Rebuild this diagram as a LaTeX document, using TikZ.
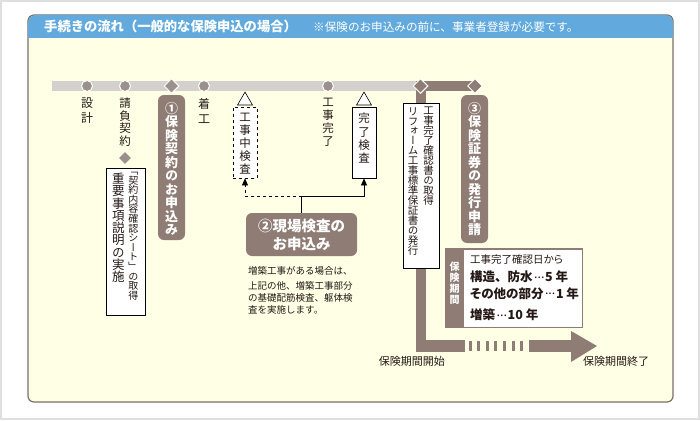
\documentclass[tikz,border=0pt]{standalone}
\usepackage{fontspec}
\setmainfont{Noto Sans CJK JP}
\newfontfamily\jpv[RawFeature=+vert]{Noto Sans CJK JP}
\newfontfamily\jpp[RawFeature=+palt]{Noto Sans CJK JP}
\usetikzlibrary{shapes.geometric,arrows.meta}
\definecolor{hdrblue}{RGB}{98,170,221}
\definecolor{panelyel}{RGB}{255,255,230}
\definecolor{panelline}{RGB}{125,110,104}
\definecolor{brwn}{RGB}{143,124,116}
\definecolor{barg}{RGB}{212,208,205}
\definecolor{dotg}{RGB}{155,145,140}
\definecolor{ink}{RGB}{35,24,21}
\newcommand\fs[1]{\fontsize{#1}{#1}\selectfont}
\newcommand\tdot{\raisebox{0.3em}{\mdseries .}}
\newcommand\tdots{\makebox[1em][s]{\hspace{0.12em}\tdot\hfil\tdot\hfil\tdot\hspace{0.12em}}}
\ExplSyntaxOn
\NewDocumentCommand\tate{O{1.1}m}{
  \vbox:n{
    \skip_set:Nn\baselineskip{#1em}
    \dim_set:Nn\lineskiplimit{-\maxdimen}
    \tl_map_inline:nn{#2}{\hbox_to_wd:nn{1em}{\hss##1\hss}}
  }
}
\ExplSyntaxOff

\begin{document}
\begin{tikzpicture}[x=1pt,y=-1pt,
  dot/.style={circle,fill=dotg,draw=white,line width=1,minimum size=11,inner sep=0},
  dia/.style={diamond,fill=dotg,draw=white,line width=1,minimum size=15,inner sep=0},
  tri/.style={regular polygon,regular polygon sides=3,draw,fill=white,line width=0.6,minimum size=17.3,inner sep=0},
  tbox/.style={draw,fill=white,line width=0.8,inner sep=0},
  pill/.style={fill=brwn,rounded corners=6,inner sep=0,text=white,font=\bfseries},
  vt/.style={inner sep=0,anchor=north,text=ink},
  conn/.style={line width=0.8,-{Triangle[length=7pt,width=6pt]}}]
\useasboundingbox (0,0) rectangle (700,420);
\fill[white] (0,0) rectangle (700,420);
\draw[gray!25,line width=2] (1,1) rectangle (699,419);

\draw[panelline,line width=1.2,fill=panelyel,rounded corners=6] (28,15) rectangle (673,402);
\fill[hdrblue,rounded corners=8] (28,15) rectangle (673,38);
\fill[hdrblue] (28,30) rectangle (673,38);
\node[anchor=west,text=white,inner sep=0,font=\bfseries\fs{13.3}] (title) at (44,26.5) {手続きの流れ（一般的な保険申込の場合）};
\node[anchor=west,text=white,inner sep=0,font=\fs{11.6}] (note) at (313,27) {※保険のお申込みの前に、事業者登録が必要です。};

\fill[barg] (52,81) rectangle (416,91);
\fill[brwn] (416,81) rectangle (476,91);
\fill[brwn] (416,86) rectangle (426,352);
\fill[brwn] (416,340) rectangle (465,352);
\foreach \x in {470,478.6,...,523} \fill[brwn] (\x-1.5,341) rectangle (\x+1.5,351);
\fill[brwn] (529,340) rectangle (572,352);
\fill[brwn] (571,331) -- (597,346) -- (571,362) -- cycle;

\node[dot] (sekkei) at (87,86) {};
\node[dot] (ukeoi) at (125,86) {};
\node[dia] (keiyakud) at (171.5,86) {};
\node[dot] (chakko) at (204,86) {};
\node[dot] (kansei) at (328,86) {};
\node[dia,fill=brwn] (kaishid) at (420.5,86) {};
\node[dia,fill=brwn] (shokend) at (475,86) {};

\node[vt] (sekkeit) at (87,98) {\jpv\fs{12}\tate[1.25]{設計}};
\node[vt] (ukeoit) at (125,98) {\jpv\fs{11.5}\tate[1.09]{請負契約}};
\node[vt] (chakkot) at (204,98) {\jpv\fs{12}\tate[1.25]{着工}};
\node[vt] (kanseit) at (328,98) {\jpv\fs{11.5}\tate[1.13]{工事完了}};
\node[dia,minimum size=12,draw=none] (ukeoid) at (125,158) {};

\node[tbox,minimum width=39,minimum height=147] (keiyaku) at (125.4,241.5) {};
\node[vt] (keiyakut1) at (133.3,172) {\jpv\fs{10}\tate[0.96]{「契約内容確認シート」の取得}};
\node[vt] (keiyakut2) at (118.3,173) {\jpv\fs{12.5}\tate[0.98]{重要事項説明の実施}};

\node[pill,minimum width=27,minimum height=145] (moushikomi) at (171.5,167.5) {};
\node[vt,text=white] (moushikomit) at (171.5,102) {\jpv\bfseries\fs{13}\tate[1.04]{①保険契約のお申込み}};

\node[tri] (tri1) at (245,100.7) {};
\node[tri] (tri2) at (364,100.7) {};
\node[tbox,dashed,minimum width=24,minimum height=71] (chukan) at (245,142.5) {};
\node[vt] (chukant) at (245,113) {\jpv\fs{11.5}\tate[1.13]{工事中検査}};
\node[tbox,minimum width=24,minimum height=71] (kanryo) at (364,142.5) {};
\node[vt] (kanryot) at (364,113) {\jpv\fs{11.5}\tate[1.15]{完了検査}};

\node[pill,minimum width=111,minimum height=43,align=center,font=\bfseries\fontsize{14.5}{18}\selectfont] (genba) at (301.5,234.5) {②現場検査の\\お申込み};
\coordinate (fork) at (301.5,196);
\draw[conn] (genba.north) -- (fork) -| (kanryo.south);
\draw[conn,dashed] (fork) -| (chukan.south);
\node[anchor=north west,inner sep=0,align=left,text=ink,font=\fontsize{9.5}{12}\selectfont] (zochiku) at (248,266) {増築工事がある場合は、\\[3pt]上記の他、増築工事部分\\の基礎配筋検査、躯体検\\査を実施します。};

\node[tbox,minimum width=36,minimum height=165] (kakunin) at (421,185.5) {};
\node[vt] (kakunint1) at (428.5,107) {\jpv\fs{10.5}\tate[0.95]{工事完了確認書の取得}};
\node[vt] (kakunint2) at (413,107) {\jpv\fs{10.5}\tate[0.95]{リフォーム工事標準保証書の発行}};

\node[pill,minimum width=27,minimum height=148] (shoken) at (474.5,169) {};
\node[vt,text=white] (shokent) at (474.5,102) {\jpv\bfseries\fs{13}\tate[1.04]{③保険証券の発行申請}};

\node[fill=brwn,minimum width=138,minimum height=80,inner sep=0] (kikan) at (514,288) {};
\node[fill=white,minimum width=118,minimum height=77,inner sep=0] (kikanin) at (523,288.5) {};
\node[vt,text=white] (kikant) at (454.5,262) {\jpv\bfseries\fs{10}\tate[1.1]{保険期間}};
\node[anchor=west,inner sep=0,text=ink,font=\jpp\fs{10.5}] (kikan1) at (470,260) {工事完了確認日から};
\node[anchor=west,inner sep=0,text=ink,font=\bfseries\fs{12.5}] (kikan2) at (470,277) {構造、防水\tdots 5 年};
\node[anchor=west,inner sep=0,text=ink,font=\jpp\bfseries\fs{12.5}] (kikan3) at (470,294) {その他の部分\tdots 1 年};
\node[anchor=west,inner sep=0,text=ink,font=\bfseries\fs{12.5}] (kikan4) at (470,315) {増築\tdots 10 年};

\node[anchor=east,inner sep=0,text=ink,font=\fs{11}] (kaishi) at (445,361) {保険期間開始};
\node[anchor=west,inner sep=0,text=ink,font=\fs{11}] (shuryo) at (583,361) {保険期間終了};
\end{tikzpicture}
\end{document}
